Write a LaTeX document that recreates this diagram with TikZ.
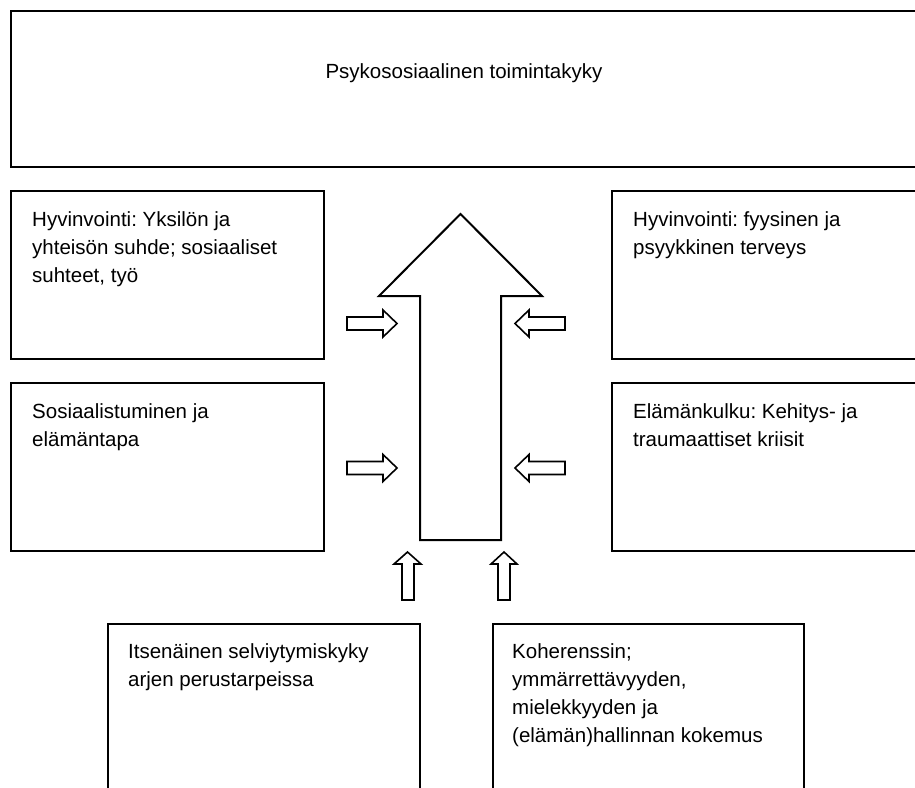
\documentclass[tikz,border=0pt]{standalone}
\usepackage{fontspec}
\setmainfont{Liberation Sans}
\usetikzlibrary{positioning}
\frenchspacing

\begin{document}
\begin{tikzpicture}[x=1pt,y=-1pt,
    laatikko/.style={draw, line width=2pt, inner sep=0pt, outer sep=0pt},
    teksti/.style={inner sep=0pt, align=left, font=\fontsize{20.5}{28}\selectfont},
    nuoli/.style={draw, line width=1.6pt, line join=miter},
    isonuoli/.style={draw, line width=2pt, line join=miter}]
        % Rajaus
        \useasboundingbox (0,0) rectangle (915,787);
        \clip (0,0) rectangle (915,787);

        % Ylin laatikko
        \node[laatikko, minimum width=906pt, minimum height=156pt] (psyko) at (464,89) {};
        \node[teksti, below=52pt of psyko.north] (psykoteksti) {Psykososiaalinen toimintakyky};

        % Hyvinvointi-laatikot
        \node[laatikko, minimum width=313pt, minimum height=168pt] (yhteiso) at (167.5,275) {};
        \node[laatikko, minimum width=305pt, minimum height=168pt] (terveys) at (764.5,275) {};
        \node[teksti, below right=20pt and 21pt of yhteiso.north west] (yhteisoteksti)
            {Hyvinvointi: Yksilön ja\\yhteisön suhde; sosiaaliset\\suhteet, työ};
        \node[teksti, below right=20pt and 21pt of terveys.north west] (terveysteksti)
            {Hyvinvointi: fyysinen ja\\psyykkinen terveys};

        % Sosialisaatio ja elämänkulku
        \node[laatikko, minimum width=313pt, minimum height=168pt] (sosiaal) at (167.5,467) {};
        \node[laatikko, minimum width=305pt, minimum height=168pt] (kulku) at (764.5,467) {};
        \node[teksti, below right=20pt and 21pt of sosiaal.north west] (sosiaalteksti)
            {Sosiaalistuminen ja\\elämäntapa};
        \node[teksti, below right=20pt and 21pt of kulku.north west] (kulkuteksti)
            {Elämänkulku: Kehitys- ja\\traumaattiset kriisit};

        % Alimmat laatikot
        \node[laatikko, minimum width=312pt, minimum height=186pt] (selviyt) at (264,717) {};
        \node[laatikko, minimum width=311pt, minimum height=186pt] (koher) at (648.5,717) {};
        \node[teksti, below right=19pt and 20pt of selviyt.north west] (selviytteksti)
            {Itsenäinen selviytymiskyky\\arjen perustarpeissa};
        \node[teksti, below right=19pt and 19pt of koher.north west] (koherteksti)
            {Koherenssin;\\ymmärrettävyyden,\\mielekkyyden ja\\(elämän)hallinnan kokemus};

        % Iso nuoli ylöspäin
        \draw[isonuoli] (420,540) -- (420,296) -- (379,296) -- (460.5,214)
            -- (542,296) -- (501,296) -- (501,540) -- cycle;

        % Pienet nuolet vasemmalta
        \draw[nuoli] (347,317) -- ++(36,0) -- ++(0,-7) -- ++(14,13.5) -- ++(-14,13.5)
            -- ++(0,-7) -- ++(-36,0) -- cycle;
        \draw[nuoli] (347,461.5) -- ++(36,0) -- ++(0,-7) -- ++(14,13.5) -- ++(-14,13.5)
            -- ++(0,-7) -- ++(-36,0) -- cycle;

        % Pienet nuolet oikealta
        \draw[nuoli] (565,317) -- ++(-36,0) -- ++(0,-7) -- ++(-14,13.5) -- ++(14,13.5)
            -- ++(0,-7) -- ++(36,0) -- cycle;
        \draw[nuoli] (565,461.5) -- ++(-36,0) -- ++(0,-7) -- ++(-14,13.5) -- ++(14,13.5)
            -- ++(0,-7) -- ++(36,0) -- cycle;

        % Pienet nuolet alhaalta
        \draw[nuoli] (402,600) -- ++(0,-36) -- ++(-8,0) -- ++(13.5,-12) -- ++(13.5,12)
            -- ++(-7,0) -- ++(0,36) -- cycle;
        \draw[nuoli] (498,600) -- ++(0,-36) -- ++(-7,0) -- ++(13,-12) -- ++(13,12)
            -- ++(-7,0) -- ++(0,36) -- cycle;
    \end{tikzpicture}
\end{document}
